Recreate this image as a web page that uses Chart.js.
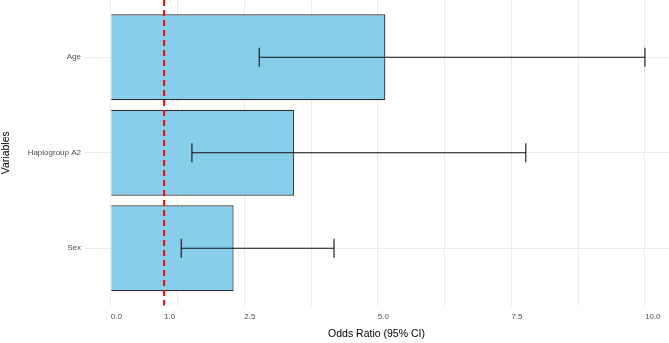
<!DOCTYPE html>
<html>
<head>
<meta charset="utf-8">
<script src="https://cdn.jsdelivr.net/npm/chart.js@4"></script>
<style>
  body { margin: 0; background: #fff; }
  #wrap { width: 669px; height: 343px; }
</style>
</head>
<body>
<div id="wrap"><canvas id="or_chart"></canvas></div>
<script>
var categories = ['Age', 'Haplogroup A2', 'Sex']
var oddsRatio = [5.14, 3.43, 2.30]
var ciLower = [2.78, 1.52, 1.32]
var ciUpper = [10.0, 7.77, 4.18]
var xTickLabels = [0, 1, 2.5, 5, 7.5, 10]
var xGridLines = [0, 1.25, 2.5, 3.75, 5, 6.25, 7.5, 8.75, 10]
var refLine = 1

Chart.defaults.font.family = '"Liberation Sans", Arial, sans-serif'

// error bars + dashed reference line, drawn on top of the bars
var overlay = {
    id: 'overlay',
    afterDatasetsDraw: function(chart) {
        var ctx = chart.ctx, area = chart.chartArea
        var x = chart.scales.x, y = chart.scales.y
        ctx.save()
        ctx.strokeStyle = '#111'
        ctx.lineWidth = 1.1
        categories.forEach(function(c, i) {
            var yc = y.getPixelForValue(i + 1)
            var cap = Math.abs(y.getPixelForValue(i + 1.1) - yc)
            var x0 = x.getPixelForValue(ciLower[i])
            var x1 = x.getPixelForValue(ciUpper[i])
            ctx.beginPath()
            ctx.moveTo(x0, yc); ctx.lineTo(x1, yc)
            ctx.moveTo(x0, yc - cap); ctx.lineTo(x0, yc + cap)
            ctx.moveTo(x1, yc - cap); ctx.lineTo(x1, yc + cap)
            ctx.stroke()
        })
        var xr = x.getPixelForValue(refLine)
        ctx.beginPath()
        ctx.setLineDash([6, 4])
        ctx.strokeStyle = '#ff0000'
        ctx.lineWidth = 2
        ctx.moveTo(xr, area.top); ctx.lineTo(xr, area.bottom)
        ctx.stroke()
        ctx.restore()
    }
}

var ctx = document.getElementById('or_chart')
var chartBar = new Chart(ctx, {
    type: 'bar',
    data: {
        datasets: [{
            label: 'Odds Ratio',
            data: oddsRatio.map(function(v, i) { return {x: v, y: i + 1} }),
            backgroundColor: '#87CEEB',
            borderColor: '#2b2b2b',
            borderWidth: 1.2,
            barPercentage: 0.9,
            categoryPercentage: 1.0
        }]
    },
    plugins: [overlay],
    options: {
        indexAxis: 'y',
        responsive: true,
        maintainAspectRatio: false,
        animation: false,
        layout: { padding: 0 },
        plugins: {
            legend: { display: false },
            tooltip: { enabled: false }
        },
        scales: {
            x: {
                type: 'linear',
                min: -0.5,
                max: 10.45,
                afterBuildTicks: function(axis) {
                    var vals = xGridLines.concat(xTickLabels.filter(function(v) { return xGridLines.indexOf(v) < 0 }))
                    vals.sort(function(a, b) { return a - b })
                    axis.ticks = vals.map(function(v) { return {value: v} })
                },
                afterFit: function(scale) {
                    scale.height = 37.5
                    scale.paddingLeft = 0
                    scale.paddingRight = 0
                },
                border: { display: false },
                grid: {
                    drawTicks: false,
                    lineWidth: 1,
                    color: function(c) {
                        return xGridLines.indexOf(c.tick.value) >= 0 ? '#ebebeb' : 'rgba(0,0,0,0)'
                    }
                },
                ticks: {
                    autoSkip: false,
                    maxRotation: 0,
                    align: 'start',
                    padding: 6,
                    color: '#4d4d4d',
                    font: { size: 8 },
                    callback: function(value) {
                        return xTickLabels.indexOf(value) >= 0 ? value.toFixed(1) : ''
                    }
                },
                title: {
                    display: true,
                    text: 'Odds Ratio (95% CI)',
                    color: '#000',
                    font: { size: 10.5 },
                    padding: { top: 2, bottom: 3 }
                }
            },
            y: {
                type: 'linear',
                min: 0.4,
                max: 3.6,
                reverse: true,
                offset: false,
                afterBuildTicks: function(axis) {
                    axis.ticks = categories.map(function(c, i) { return {value: i + 1} })
                },
                afterFit: function(scale) {
                    scale.width = 84
                    scale.paddingTop = 0
                    scale.paddingBottom = 0
                },
                border: { display: false },
                grid: { drawTicks: false, offset: false, color: '#ebebeb', lineWidth: 1 },
                ticks: {
                    padding: 3,
                    color: '#4d4d4d',
                    font: { size: 8 },
                    callback: function(value) { return categories[value - 1] }
                },
                title: {
                    display: true,
                    text: 'Variables',
                    color: '#000',
                    font: { size: 10.5 },
                    padding: { top: 0, bottom: 0 }
                }
            }
        }
    }
})
</script>
</body>
</html>
